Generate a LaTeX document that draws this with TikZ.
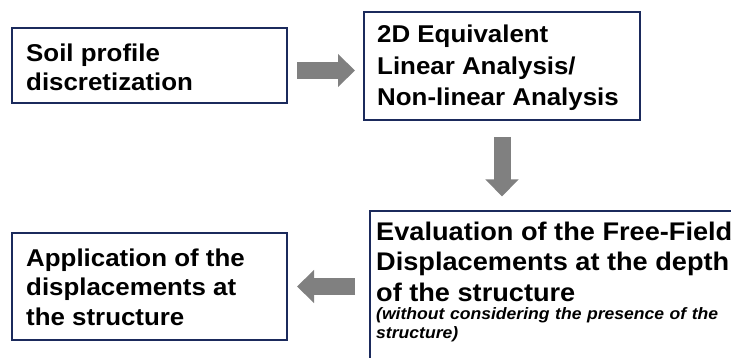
\documentclass[tikz,border=0pt]{standalone}
\usepackage{fontspec}
\setmainfont{Liberation Sans}[
  FakeStretch=1.065,
  BoldFont={Liberation Sans Bold},
  BoldItalicFont={Liberation Sans Bold Italic},
  BoldFeatures={FakeStretch=1.065},
  BoldItalicFeatures={FakeStretch=1.065}]
\usetikzlibrary{arrows.meta}
\definecolor{navy}{HTML}{1B2A5C}
\definecolor{arrowgray}{HTML}{808080}
\tikzset{
  box/.style={draw=navy, line width=2pt, fill=white, rectangle, inner sep=0pt, anchor=north west},
  txt/.style={anchor=base west, inner sep=0pt, align=left, font=\bfseries\fontsize{24.3}{29.5}\selectfont},
  bigarrow/.style={draw=arrowgray, line width=17pt, -{Triangle[width=32pt,length=17pt]}},
}
\begin{document}
\begin{tikzpicture}[x=1pt,y=-1pt]
\useasboundingbox (0,0) rectangle (731,358);
\node[box, minimum width=275pt, minimum height=75pt] (b1) at (11,27) {};
\node[box, minimum width=276pt, minimum height=108pt] (b2) at (363,11) {};
\node[box, minimum width=275pt, minimum height=107pt] (b3) at (11,232) {};
\node[box, minimum width=370pt, minimum height=155pt] (b4) at (369,210.5) {};
\node[txt] (t1) at (26,91) {Soil profile\\discretization};
\node[txt, font=\bfseries\fontsize{24.3}{31.5}\selectfont] (t2) at (377,106) {2D Equivalent\\Linear Analysis/\\Non-linear Analysis};
\node[txt] (t3) at (26,325) {Application of the\\displacements at\\the structure};
\node[txt, font=\bfseries\fontsize{25.5}{30.5}\selectfont] (t4) at (376,301) {Evaluation of the Free-Field\\Displacements at the depth\\of the structure};
\node[anchor=base west, inner sep=0pt, font=\bfseries\itshape\fontsize{16.5}{19}\selectfont, align=left] (t5) at (376,338) {\makebox[342pt][s]{(without considering the presence of the}\\structure)};
\coordinate (a1s) at ([shift={(9,5)}]b1.east);
\draw[bigarrow, shorten >=8pt] (a1s) -- (a1s -| b2.west);
\coordinate (a2s) at ([yshift=-16pt]b2.south);
\draw[bigarrow, shorten >=14pt] (a2s) -- (a2s |- b4.north);
\coordinate (a3s) at ([xshift=-14pt]b4.west |- b3.east);
\draw[bigarrow, shorten >=9pt] (a3s) -- (b3.east);
\end{tikzpicture}
\end{document}
